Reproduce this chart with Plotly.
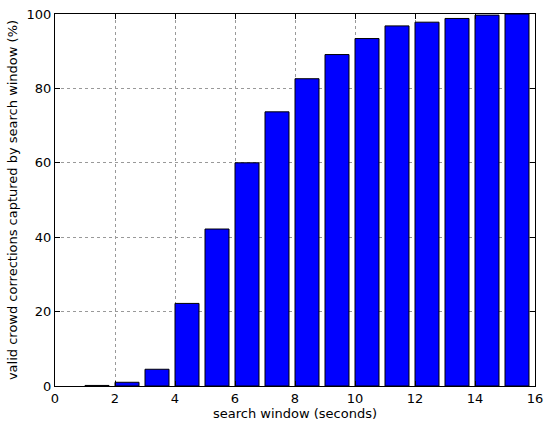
import plotly.graph_objects as go

window_seconds = list(range(1, 16))
captured_pct = [0.15, 1.0, 4.5, 22.2, 42.2, 60.0, 73.7, 82.6, 89.1, 93.4, 96.8, 97.8, 98.8, 99.7, 100.0]
x_ticks = [0, 2, 4, 6, 8, 10, 12, 14, 16]
y_ticks = [0, 20, 40, 60, 80, 100]

fig = go.Figure(go.Bar(
    x=window_seconds, y=captured_pct, width=0.8, offset=0,
    marker=dict(color="#0000ff", line=dict(color="black", width=1)),
))

axis_common = dict(
    showline=True, linecolor="black", linewidth=1, mirror="ticks",
    ticks="inside", ticklen=5, tickcolor="black",
    showgrid=True, gridcolor="#999999", griddash="dot", gridwidth=1,
    zeroline=False, tickfont=dict(size=13, color="black"), automargin=False,
)
fig.update_xaxes(range=[0, 16], tickvals=x_ticks, title=dict(text="search window (seconds)", font=dict(size=13), standoff=4), **axis_common)
fig.update_yaxes(range=[0, 100], tickvals=y_ticks, title=dict(text="valid crowd corrections captured by search window (%)", font=dict(size=13), standoff=6), **axis_common)

fig.update_layout(
    width=544, height=421,
    margin=dict(l=55, r=9, t=14, b=35),
    paper_bgcolor="white", plot_bgcolor="white",
    font=dict(family="DejaVu Sans", color="black"),
    showlegend=False,
)
fig.write_html("out.html", config={"displayModeBar": False},
               post_script="document.body.style.margin='0';document.body.style.overflow='hidden';")
